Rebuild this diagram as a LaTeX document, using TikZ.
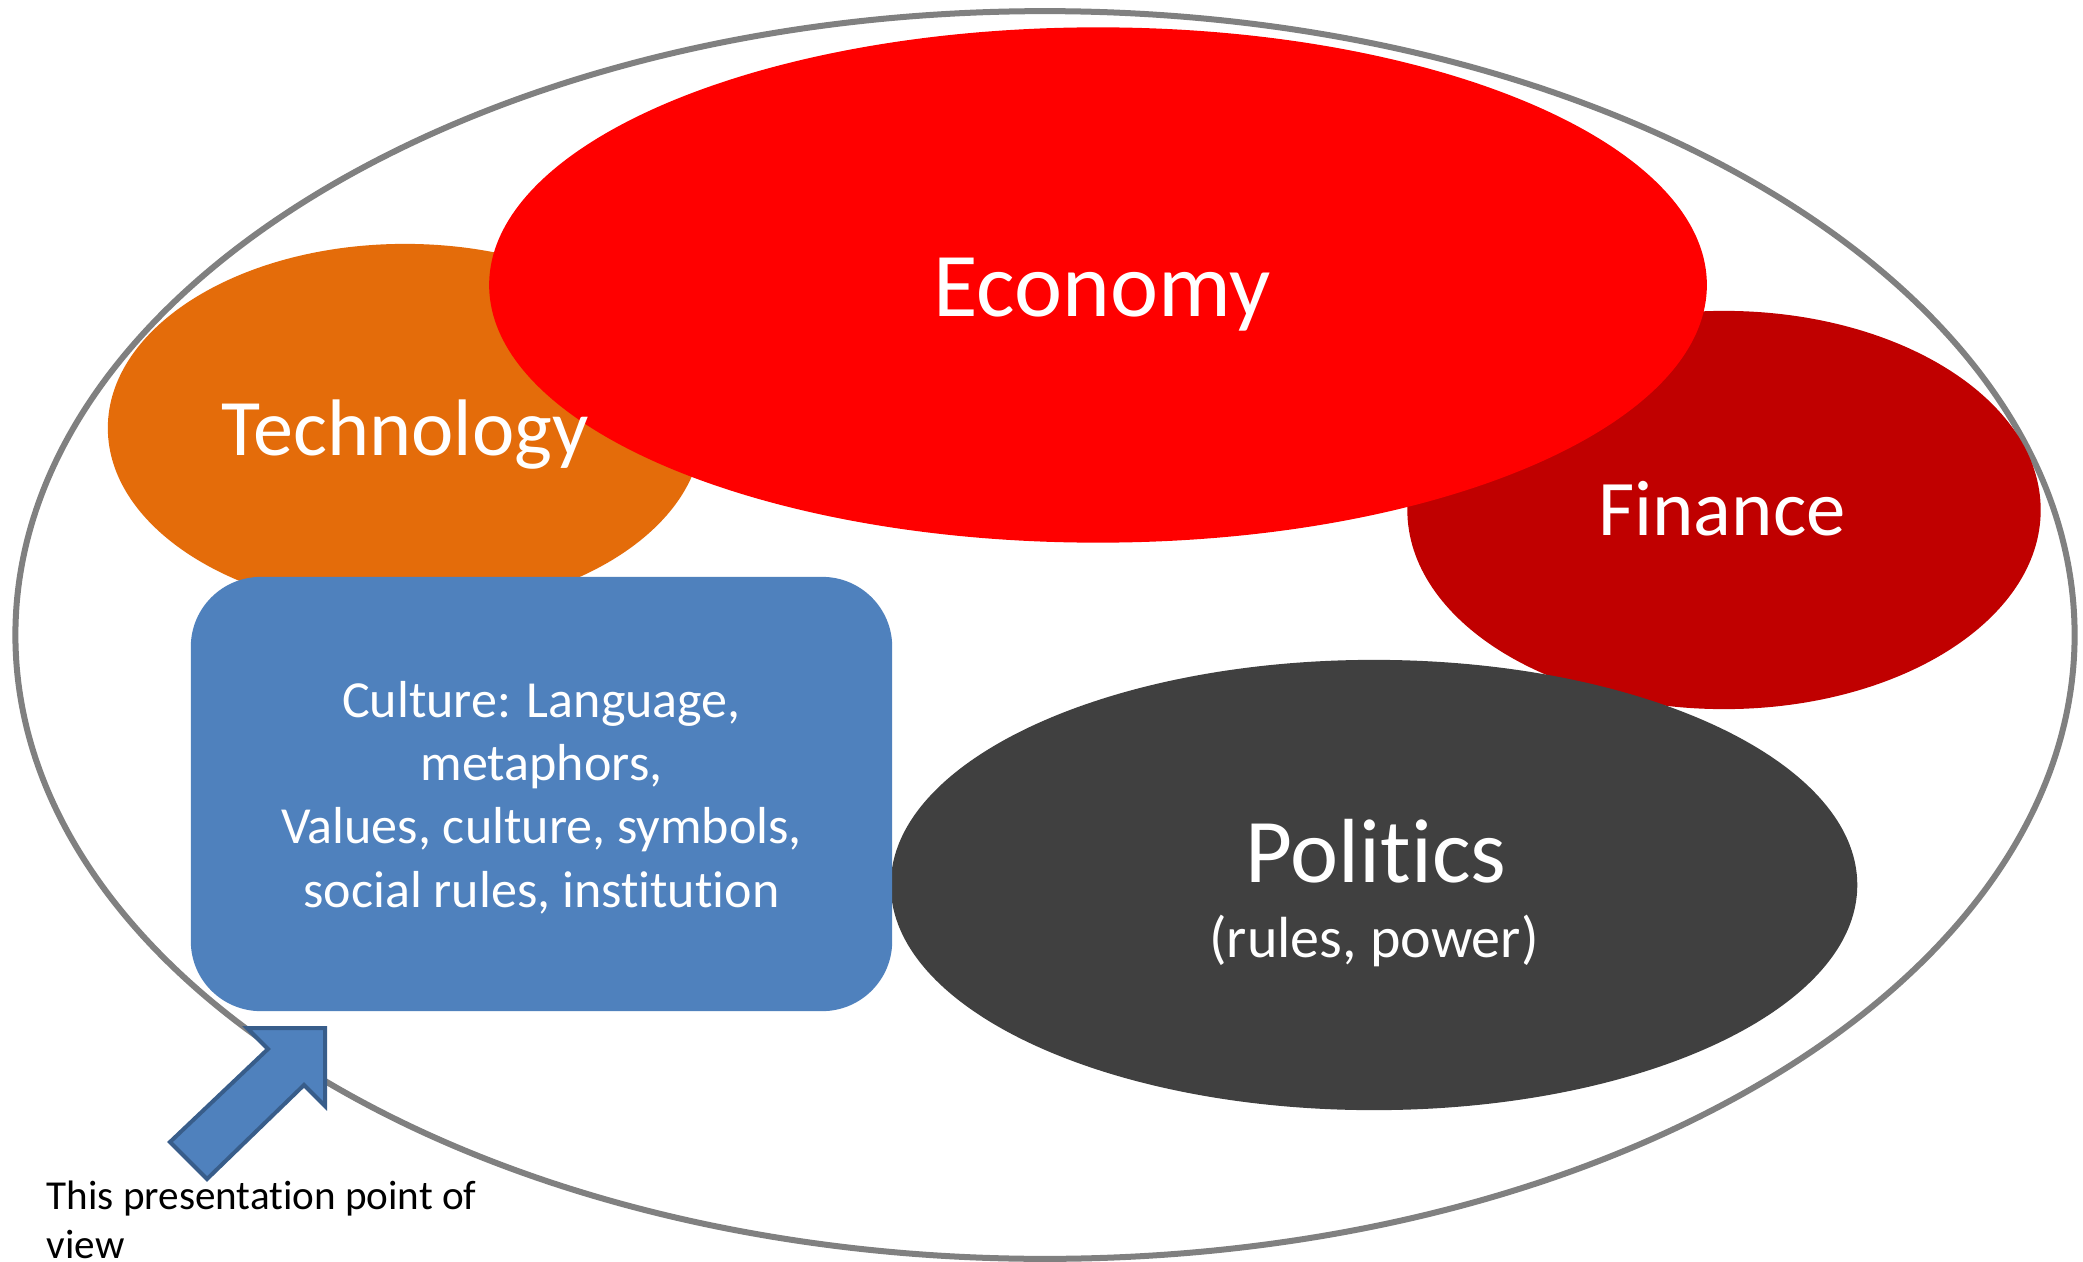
\documentclass[tikz,border=0pt]{standalone}
\usepackage{fontspec}
\setmainfont{Carlito}[Ligatures={CommonOff,ContextualOff}]
\usetikzlibrary{shapes.geometric}
\definecolor{outergray}{HTML}{808080}
\definecolor{econred}{HTML}{FF0000}
\definecolor{finred}{HTML}{C00000}
\definecolor{techorange}{HTML}{E46C0A}
\definecolor{polgray}{HTML}{404040}
\definecolor{cultblue}{HTML}{4F81BD}
\definecolor{arrowedge}{HTML}{385D8A}
\begin{document}
\begin{tikzpicture}[x=0.01cm,y=-0.01cm,
  blob/.style={ellipse, inner sep=0pt, draw=none, fill=#1},
  lbl/.style={text=white, anchor=base, inner sep=0pt},
  cultbox/.style={rectangle, rounded corners=0.7cm, fill=cultblue, draw=none, inner sep=0pt, minimum width=7.01cm, minimum height=4.34cm},
  povarrow/.style={fill=cultblue, draw=arrowedge, line width=0.04cm, line join=miter}]
\useasboundingbox (0,0) rectangle (2083,1261);
\fill[white] (0,0) rectangle (2083,1261);
% outer world ellipse
\node[ellipse, draw=outergray, line width=0.06cm, inner sep=0pt, minimum width=20.58cm, minimum height=12.47cm] (world) at (1045,635) {};
% domains
\node[blob=finred, minimum width=6.33cm, minimum height=3.98cm] (fin) at (1724,510) {};
\node[blob=techorange, minimum width=5.94cm, minimum height=3.68cm] (tech) at (405,428) {};
\node[blob=econred, minimum width=12.17cm, minimum height=5.15cm] (econ) at (1098,285) {};
\node[blob=polgray, minimum width=9.66cm, minimum height=4.50cm] (pol) at (1374,885) {};
\node[cultbox] (cult) at (541.5,794) {};
% point-of-view arrow
\coordinate (tip) at (325,1028);
\draw[povarrow] (247,1028) -- (tip) -- (325,1106) -- (304,1085) -- (207,1179) -- (170,1142) -- (268,1049) -- cycle;
% labels
\node[lbl, font=\fontsize{25.9}{31}\selectfont] (econtxt) at (1102,317) {Economy};
\node[lbl, font=\fontsize{22.8}{27}\selectfont] (techtxt) at (405,455) {Technology};
\node[lbl, font=\fontsize{22.4}{27}\selectfont] (fintxt) at (1722,535) {Finance};
\node[lbl, font=\fontsize{25.9}{31}\selectfont] (poltxt) at (1376,882) {Politics};
\node[lbl, font=\fontsize{16.5}{20}\selectfont] (polsub) at (1374,957) {(rules, power)};
\node[lbl, align=center, font=\fontsize{14.8}{18}\selectfont] (culttxt) at (541.5,907) {Culture: Language,\\metaphors,\\Values, culture, symbols,\\social rules, institution};
\node[anchor=base west, inner sep=0pt, align=left, text=black, font=\fontsize{11.7}{13.9}\selectfont] (povtxt) at (46,1258) {This presentation point of\\view};
\end{tikzpicture}
\end{document}
